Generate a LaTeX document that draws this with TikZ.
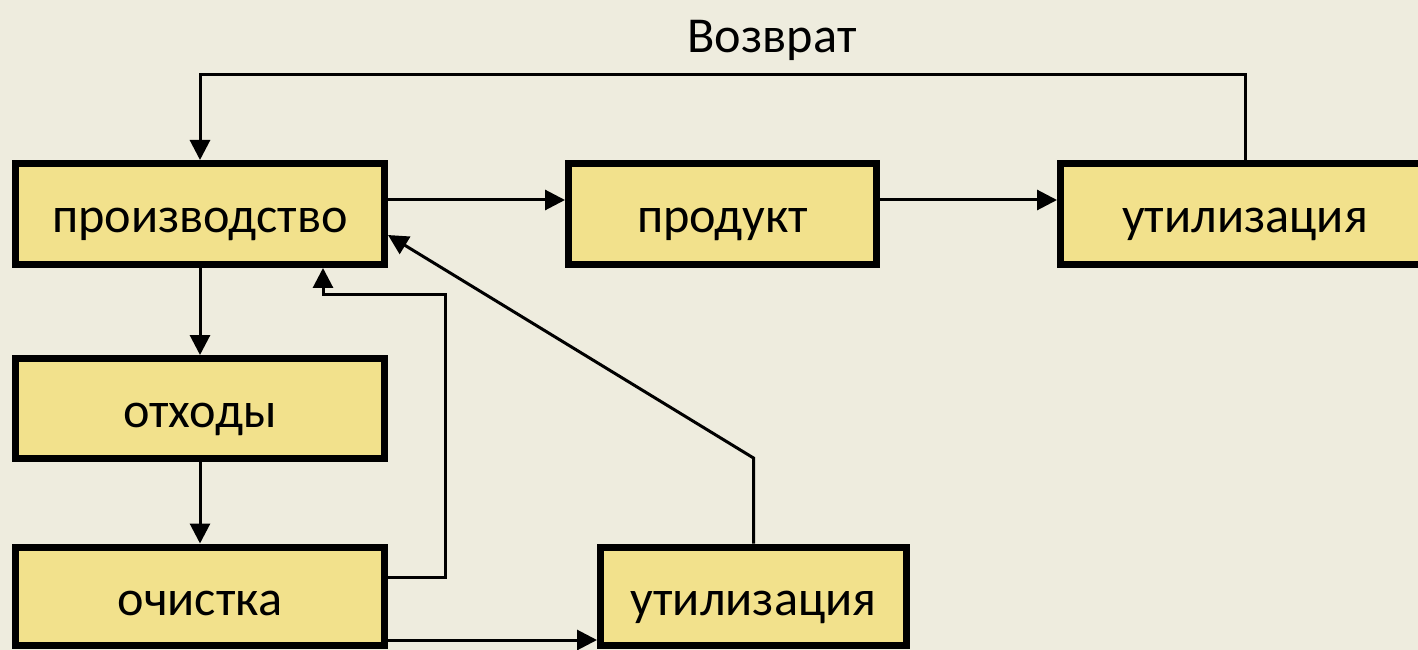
\documentclass[tikz,border=0pt]{standalone}
\usepackage{fontspec}
\setmainfont{Carlito}
\usepackage{tikz}
\usetikzlibrary{arrows.meta, positioning}

\definecolor{bgbeige}{RGB}{238,236,222}
\definecolor{boxyellow}{RGB}{242,225,140}

\tikzset{
  stage/.style={draw=black, fill=boxyellow, line width=0.07cm, rectangle,
    minimum width=3.69cm, minimum height=1.01cm, inner sep=0pt,
    text height=0.38cm, text depth=0pt,
    font=\fontsize{14.3}{17}\selectfont},
  flow/.style={line width=0.03cm}
}

\begin{document}
\begin{tikzpicture}[>={Triangle[length=0.2cm,width=0.2cm]}]

% page and background
\useasboundingbox (0,0) rectangle (14.18,-6.5);
\clip (0,0) rectangle (14.18,-6.5);
\fill[bgbeige] (0,0) rectangle (14.18,-6.5);

% Top row
\node[stage] (prod) at (2.00,-2.14) {производство};
\node[stage, minimum width=3.08cm] (prodkt) at (7.225,-2.14) {продукт};
\node[stage] (util) at (12.45,-2.14) {утилизация};

% Left column
\node[stage, minimum height=1.0cm] (waste) at (2.00,-4.085) {отходы};
\node[stage, minimum height=0.98cm] (clean) at (2.00,-5.96) {очистка};
\node[stage, minimum width=3.06cm, minimum height=0.98cm] (util2) at (7.535,-5.96) {утилизация};

% Return loop
\coordinate (ret) at (7.72,-0.75);
\node[anchor=base, font=\fontsize{14.3}{17}\selectfont] (retlabel) at (7.72,-0.53) {Возврат};
\draw[flow,->] (util.north) |- (ret) -| (prod.north);

% Main flow
\draw[flow,->] ([yshift=0.14cm]prod.east) -- ([yshift=0.14cm]prodkt.west);
\draw[flow,->] ([yshift=0.14cm]prodkt.east) -- ([yshift=0.14cm]util.west);
\draw[flow,->] (prod.south) -- (waste.north);
\draw[flow,->] (waste.south) -- (clean.north);

% Back from cleaning
\coordinate (bend) at (4.45,-2.95);
\draw[flow,->] ([yshift=0.19cm]clean.east) -| (bend) -| ([xshift=1.23cm]prod.south);
\draw[flow,->] ([yshift=-0.44cm]clean.east) -- ([yshift=-0.44cm]util2.west);

% Back from utilisation
\coordinate (kink) at (7.535,-4.58);
\draw[flow,->] (util2.north) -- (kink) -- ([yshift=-0.21cm]prod.east);

\end{tikzpicture}
\end{document}
